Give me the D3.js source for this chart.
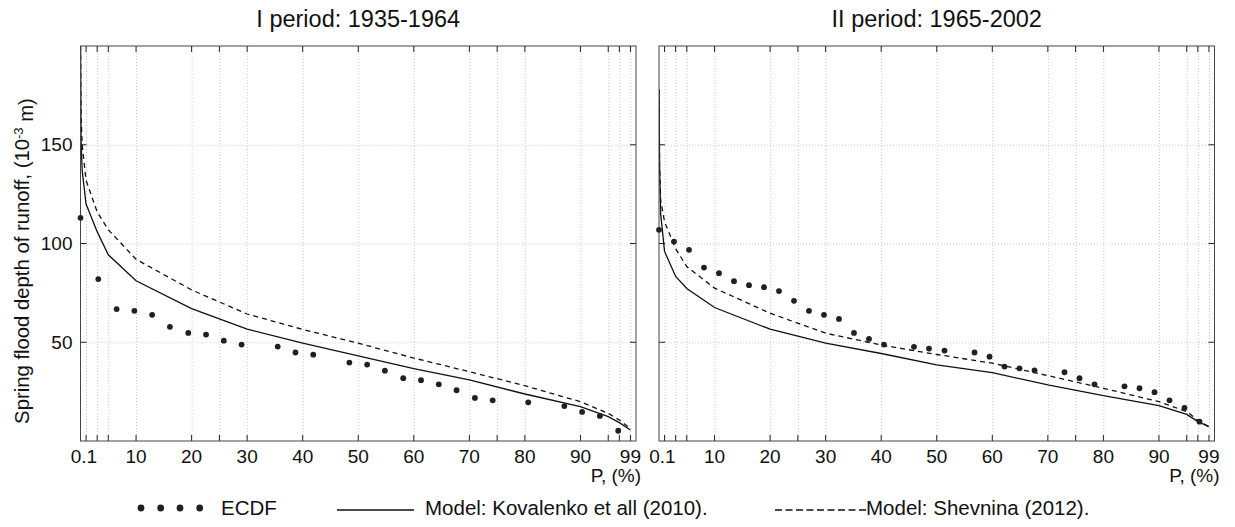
<!DOCTYPE html>
<html>
<head>
<meta charset="utf-8">
<script src="https://cdnjs.cloudflare.com/ajax/libs/d3/7.8.5/d3.min.js"></script>
<style>
  body { margin: 0; background: #fff; }
  svg { font-family: "Liberation Sans", Arial, sans-serif; }
  .grid line { stroke: #c8c8c8; stroke-dasharray: 1,2; }
  .grid path { display: none; }
</style>
</head>
<body>
<script>
// non-exceedance probability, % and runoff depth (10^-3 m)
var ecdf1P = [0, 3.2, 6.5, 9.7, 12.9, 16.1, 19.4, 22.6, 25.8, 29.0, 35.5, 38.7, 41.9, 48.4, 51.6, 54.8, 58.1, 61.3, 64.5, 67.7, 71.0, 74.2, 80.6, 87.1, 90.3, 93.5, 96.8];
var ecdf1V = [113, 82, 66.8, 65.9, 63.9, 57.8, 54.7, 53.9, 50.8, 48.8, 47.8, 44.8, 43.7, 39.7, 38.7, 35.6, 31.8, 30.8, 28.7, 25.7, 21.8, 20.6, 19.6, 17.7, 14.7, 12.7, 5.2];

var ecdf2P = [0, 2.7, 5.4, 8.1, 10.8, 13.5, 16.2, 18.9, 21.6, 24.3, 27.0, 29.7, 32.4, 35.1, 37.8, 40.5, 45.9, 48.6, 51.4, 56.8, 59.5, 62.2, 64.9, 67.6, 73.0, 75.7, 78.4, 83.8, 86.5, 89.2, 91.9, 94.6, 97.3];
var ecdf2V = [106.9, 101, 96.8, 87.8, 85, 80.9, 78.9, 77.9, 75.9, 71, 65.9, 63.9, 61.8, 54.7, 51.7, 48.8, 47.7, 46.8, 45.8, 44.8, 42.7, 37.7, 36.8, 35.8, 34.8, 31.8, 28.7, 27.7, 26.7, 24.7, 20.6, 16.7, 9.8];

var modelP = [0.01, 0.1, 0.3, 1, 3, 5, 10, 20, 30, 40, 50, 60, 70, 80, 90, 95, 97, 99];
var kov1  = [200, 152, 137, 120, 106, 94.3, 81.1, 67, 56.6, 49.5, 43.1, 36.7, 30.9, 23.8, 17.4, 12.3, 9.3, 5.6];
var shev1 = [200, 165, 150, 132, 116, 107, 92, 76.5, 64.3, 56.5, 49.5, 42, 35.1, 28, 19.9, 14, 10.6, 6.4];
var kov2  = [178, 140, 115, 96, 83.3, 77.2, 67.6, 56.6, 49.5, 44.3, 38.5, 34.6, 28.4, 23, 17.9, 13.5, 9.8, 7.2];
var shev2 = [178, 140, 122, 111, 97.3, 88.3, 77.4, 64.7, 54.6, 48.6, 43.8, 39.4, 33.1, 26.7, 19.9, 14.9, 10.6, 7.2];

var titles = ["I period: 1935-1964", "II period: 1965-2002"];
var xTicks = [1, 3, 5, 10, 20, 25, 30, 40, 50, 60, 70, 75, 80, 90, 95, 97, 99];
var xLabelVals = [0.6, 10, 20, 30, 40, 50, 60, 70, 80, 90, 99];
var xLabelText = ["0.1", "10", "20", "30", "40", "50", "60", "70", "80", "90", "99"];
var yTicks = [50, 100, 150];

var W = 1235, H = 527;
var plotTop = 46, pw = 555.5, ph = 395;
var lefts = [80.5, 659];

var svg = d3.select("body").append("svg").attr("width", W).attr("height", H);

var x = d3.scaleLinear().domain([0, 100]).range([0, pw]);
var y = d3.scaleLinear().domain([0, 200]).range([ph, 0]);

svg.append("clipPath").attr("id", "clip")
  .append("rect").attr("width", pw).attr("height", ph);

var line = d3.line()
  .x(function(d) { return x(d[0]); })
  .y(function(d) { return y(d[1]); });

function zip(a, b) { return a.map(function(v, i) { return [v, b[i]]; }); }

var panels = [
  {ecdf: zip(ecdf1P, ecdf1V), kov: zip(modelP, kov1), shev: zip(modelP, shev1)},
  {ecdf: zip(ecdf2P, ecdf2V), kov: zip(modelP, kov2), shev: zip(modelP, shev2)}
];

panels.forEach(function(p, k) {
  var g = svg.append("g").attr("transform", "translate(" + lefts[k] + "," + plotTop + ")");

  // grid
  g.append("g").attr("class", "grid")
    .attr("transform", "translate(0," + ph + ")")
    .call(d3.axisBottom(x).tickValues(xTicks).tickSize(-ph).tickFormat(""));
  g.append("g").attr("class", "grid")
    .call(d3.axisLeft(y).tickValues(yTicks).tickSize(-pw).tickFormat(""));

  // inward ticks on all four sides
  var tk = 6;
  var tg = g.append("g").attr("stroke", "#222").attr("stroke-width", 1);
  xTicks.forEach(function(v) {
    tg.append("line").attr("x1", x(v)).attr("x2", x(v)).attr("y1", ph).attr("y2", ph - tk);
    tg.append("line").attr("x1", x(v)).attr("x2", x(v)).attr("y1", 0).attr("y2", tk);
  });
  yTicks.forEach(function(v) {
    tg.append("line").attr("x1", 0).attr("x2", tk).attr("y1", y(v)).attr("y2", y(v));
    tg.append("line").attr("x1", pw).attr("x2", pw - tk).attr("y1", y(v)).attr("y2", y(v));
  });

  // model curves
  var cg = g.append("g").attr("clip-path", "url(#clip)");
  cg.append("path").datum(p.kov).attr("d", line)
    .attr("fill", "none").attr("stroke", "#111").attr("stroke-width", 1.3);
  cg.append("path").datum(p.shev).attr("d", line)
    .attr("fill", "none").attr("stroke", "#111").attr("stroke-width", 1.3)
    .attr("stroke-dasharray", "5,4");

  // frame
  g.append("rect").attr("width", pw).attr("height", ph)
    .attr("fill", "none").attr("stroke", "#444").attr("stroke-width", 1);

  // ECDF points
  g.selectAll("circle.ecdf").data(p.ecdf).enter().append("circle")
    .attr("class", "ecdf")
    .attr("cx", function(d) { return x(d[0]); })
    .attr("cy", function(d) { return y(d[1]); })
    .attr("r", 2.9)
    .attr("fill", "#231f20");

  // x labels
  g.selectAll("text.xl").data(xLabelVals).enter().append("text")
    .attr("class", "xl")
    .attr("x", function(d) { return x(d); })
    .attr("y", ph + 22)
    .attr("text-anchor", "middle")
    .attr("font-size", 19)
    .attr("fill", "#111")
    .text(function(d, i) { return xLabelText[i]; });

  g.append("text")
    .attr("x", pw + 5).attr("y", ph + 41)
    .attr("text-anchor", "end")
    .attr("font-size", 19).attr("fill", "#111")
    .text("P, (%)");

  // y labels only on the first panel
  if (k === 0) {
    g.selectAll("text.yl").data(yTicks).enter().append("text")
      .attr("class", "yl")
      .attr("x", -8)
      .attr("y", function(d) { return y(d); })
      .attr("dy", "0.35em")
      .attr("text-anchor", "end")
      .attr("font-size", 19)
      .attr("fill", "#111")
      .text(function(d) { return d; });
  }

  svg.append("text")
    .attr("x", lefts[k] + pw / 2).attr("y", 27)
    .attr("text-anchor", "middle")
    .attr("font-size", 23.5).attr("fill", "#111")
    .text(titles[k]);
});

// y axis title
var yt = svg.append("text")
  .attr("transform", "translate(29,261) rotate(-90)")
  .attr("text-anchor", "middle")
  .attr("font-size", 20.3).attr("fill", "#111");
yt.append("tspan").text("Spring flood depth of runoff, (10");
yt.append("tspan").attr("dy", "-0.5em").attr("font-size", 13).text("-3");
yt.append("tspan").attr("dy", "0.5em").text(" m)");

// legend
var lg = svg.append("g");
var legDots = [141, 160.7, 180, 199.7];
lg.selectAll("circle").data(legDots).enter().append("circle")
  .attr("cx", function(d) { return d; }).attr("cy", 508)
  .attr("r", 3.4).attr("fill", "#231f20");
lg.append("text").attr("x", 221).attr("y", 515).attr("font-size", 20.5).attr("fill", "#111").text("ECDF");
lg.append("line").attr("x1", 337).attr("x2", 414).attr("y1", 510).attr("y2", 510)
  .attr("stroke", "#111").attr("stroke-width", 1.3);
lg.append("text").attr("x", 425).attr("y", 515).attr("font-size", 20.5).attr("fill", "#111")
  .text("Model: Kovalenko et all (2010).");
lg.append("line").attr("x1", 775).attr("x2", 866).attr("y1", 510).attr("y2", 510)
  .attr("stroke", "#111").attr("stroke-width", 1.3).attr("stroke-dasharray", "7,3.5");
lg.append("text").attr("x", 866).attr("y", 515).attr("font-size", 20.5).attr("fill", "#111")
  .text("Model: Shevnina (2012).");
</script>
</body>
</html>
